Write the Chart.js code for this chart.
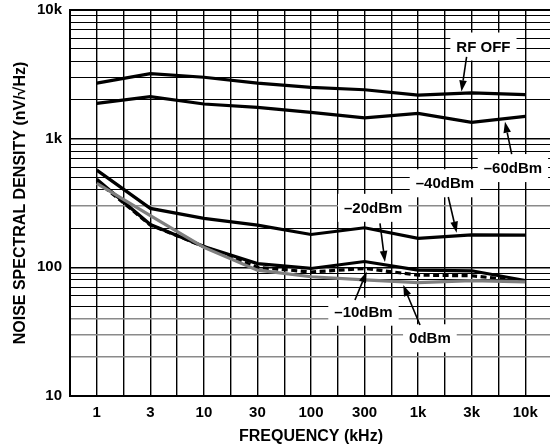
<!DOCTYPE html>
<html>
<head>
<meta charset="utf-8">
<script src="https://cdn.jsdelivr.net/npm/chart.js@4/dist/chart.umd.min.js"></script>
<style>
  html, body { margin: 0; padding: 0; background: #fff; overflow: hidden; }
  #wrap { width: 552px; height: 448px; }
</style>
</head>
<body>
<div id="wrap"><canvas id="c" width="552" height="448"></canvas></div>
<script>
// Frequency points (kHz), one per column of the chart
const freqLabels = ['1', '3', '10', '30', '100', '300', '1k', '3k', '10k'];

// Noise spectral density (nV/√Hz) for each RF input level
const rfOff  = [2700, 3200, 3000, 2700, 2500, 2400, 2180, 2270, 2200];
const dBmM60 = [1880, 2120, 1860, 1750, 1600, 1450, 1570, 1340, 1490];
const dBmM40 = [570, 287, 240, 213, 180, 203, 168, 179, 178];
const dBmM20 = [483, 215, 145, 107, 98, 111, 95, 94, 79];
const dBmM10 = [470, 213, 145, 100, 92, 98, 87, 86, 78];
const dBm0   = [450, 252, 143, 95, 84.5, 80, 76, 78.7, 77];

// Y axis decades and their labels
const yDecades = [10, 100, 1000, 10000];
const yDecadeLabels = ['10', '100', '1k', '10k'];

// Every grid value: 1..9 times each decade, plus the top
const yGridValues = [];
for (let d = 0; d < yDecades.length - 1; d++) {
  for (let m = 1; m <= 9; m++) yGridValues.push(m * yDecades[d]);
}
yGridValues.push(yDecades[yDecades.length - 1]);
const softGridValues = [20, 30, 40, 300];

// Callout labels: text position and arrow in data units (column index, nV/√Hz)
const callouts = [
  { text: 'RF OFF',  x: 7.22, y: 5200, from: [6.905, 4325], to: [6.81, 2330] },
  { text: '–60dBm', x: 7.77, y: 591,  from: [7.747, 759],  to: [7.622, 1352] },
  { text: '–40dBm', x: 6.50, y: 450,  from: [6.563, 352],  to: [6.72, 186] },
  { text: '–20dBm', x: 5.16, y: 290,  from: [5.288, 220],  to: [5.381, 110] },
  { text: '–10dBm', x: 4.98, y: 45.2, from: [4.821, 55.7], to: [5.04, 92.5] },
  { text: '0dBm',    x: 6.22, y: 28.1, from: [6.035, 35.6], to: [5.723, 72.8] }
];

const FONT_FAMILY = '"Liberation Sans", Arial, Helvetica, sans-serif';
const toPoints = arr => arr.map((v, i) => ({ x: i, y: v }));

const calloutPlugin = {
  id: 'callouts',
  beforeDatasetsDraw(chart) {
    const { ctx, scales: { x, y } } = chart;
    ctx.save();
    ctx.font = 'bold 15px ' + FONT_FAMILY;
    ctx.fillStyle = '#fff';
    callouts.forEach(c => {
      const cx = x.getPixelForValue(c.x);
      const cy = y.getPixelForValue(c.y);
      const w = ctx.measureText(c.text).width;
      ctx.fillRect(cx - w / 2 - 6, cy - 14, w + 12, 28);
    });
    ctx.restore();
  },
  afterDatasetsDraw(chart) {
    const { ctx, scales: { x, y } } = chart;
    ctx.save();
    ctx.font = 'bold 15px ' + FONT_FAMILY;
    ctx.fillStyle = '#000';
    ctx.strokeStyle = '#000';
    ctx.textAlign = 'center';
    ctx.textBaseline = 'middle';
    callouts.forEach(c => {
      const cx = x.getPixelForValue(c.x);
      const cy = y.getPixelForValue(c.y);
      ctx.fillText(c.text, cx, cy + 1);
      const x1 = x.getPixelForValue(c.from[0]);
      const y1 = y.getPixelForValue(c.from[1]);
      const x2 = x.getPixelForValue(c.to[0]);
      const y2 = y.getPixelForValue(c.to[1]);
      const ang = Math.atan2(y2 - y1, x2 - x1);
      const headLen = 11, headHalf = 3.8;
      const bx = x2 - headLen * Math.cos(ang);
      const by = y2 - headLen * Math.sin(ang);
      ctx.lineWidth = 1.6;
      ctx.beginPath();
      ctx.moveTo(x1, y1);
      ctx.lineTo(bx, by);
      ctx.stroke();
      ctx.beginPath();
      ctx.moveTo(x2, y2);
      ctx.lineTo(bx + headHalf * Math.sin(ang), by - headHalf * Math.cos(ang));
      ctx.lineTo(bx - headHalf * Math.sin(ang), by + headHalf * Math.cos(ang));
      ctx.closePath();
      ctx.fill();
    });
    ctx.restore();
  }
};

const lineStyle = (label, data, color, extra) => Object.assign({
  label, data: toPoints(data),
  borderColor: color, backgroundColor: color,
  borderWidth: 3.2, pointRadius: 0, tension: 0, fill: false
}, extra || {});

new Chart(document.getElementById('c'), {
  type: 'line',
  data: {
    datasets: [
      lineStyle('RF OFF', rfOff, '#000'),
      lineStyle('–60dBm', dBmM60, '#000'),
      lineStyle('–40dBm', dBmM40, '#000'),
      lineStyle('–20dBm', dBmM20, '#000', { order: 1 }),
      lineStyle('–10dBm', dBmM10, '#000', { borderDash: [6, 3.5], order: 2 }),
      lineStyle('0dBm', dBm0, '#7f7f7f', { order: 0 })
    ]
  },
  options: {
    responsive: false,
    animation: false,
    layout: { padding: { top: 10, left: 0, right: 0, bottom: 0 } },
    plugins: { legend: { display: false }, tooltip: { enabled: false } },
    font: { family: FONT_FAMILY },
    scales: {
      x: {
        type: 'linear',
        min: -0.5,
        max: 8.5,
        afterBuildTicks(scale) {
          const t = [];
          for (let v = -0.5; v <= 8.5 + 1e-9; v += 0.5) t.push({ value: v });
          scale.ticks = t;
        },
        afterFit(scale) {
          scale.height = 52;
          scale.paddingLeft = 0;
          scale.paddingRight = 0;
        },
        ticks: {
          autoSkip: false,
          maxRotation: 0,
          padding: 8,
          color: '#000',
          font: { family: FONT_FAMILY, size: 15, weight: 'bold' },
          callback: v => Number.isInteger(v) ? freqLabels[v] : ''
        },
        grid: { color: '#000', lineWidth: 1.4, drawTicks: false },
        border: { color: '#000', width: 2 },
        title: {
          display: true,
          text: 'FREQUENCY (kHz)',
          color: '#000',
          font: { family: FONT_FAMILY, size: 16, weight: 'bold' },
          padding: { top: 0, bottom: 2 }
        }
      },
      y: {
        type: 'logarithmic',
        min: 10,
        max: 10000,
        afterBuildTicks(scale) {
          scale.ticks = yGridValues.map(v => ({ value: v }));
        },
        afterFit(scale) {
          scale.width = 70;
          scale.paddingTop = 0;
          scale.paddingBottom = 0;
        },
        ticks: {
          autoSkip: false,
          padding: 8,
          color: '#000',
          font: { family: FONT_FAMILY, size: 15, weight: 'bold' },
          callback: v => {
            const i = yDecades.indexOf(v);
            return i >= 0 ? yDecadeLabels[i] : '';
          }
        },
        grid: {
          drawTicks: false,
          color: c => softGridValues.includes(c.tick && c.tick.value) ? '#8a8a8a' : '#000',
          lineWidth: c => {
            const v = c.tick && c.tick.value;
            if (v === 10000) return 2;
            if (softGridValues.includes(v)) return 1.6;
            return yDecades.includes(v) ? 1.4 : 1;
          }
        },
        border: { color: '#000', width: 2 },
        title: {
          display: true,
          text: 'NOISE SPECTRAL DENSITY (nV/√Hz)',
          color: '#000',
          font: { family: FONT_FAMILY, size: 16, weight: 'bold' },
          padding: { top: 11, bottom: 0 }
        }
      }
    }
  },
  plugins: [calloutPlugin]
});
</script>
</body>
</html>
